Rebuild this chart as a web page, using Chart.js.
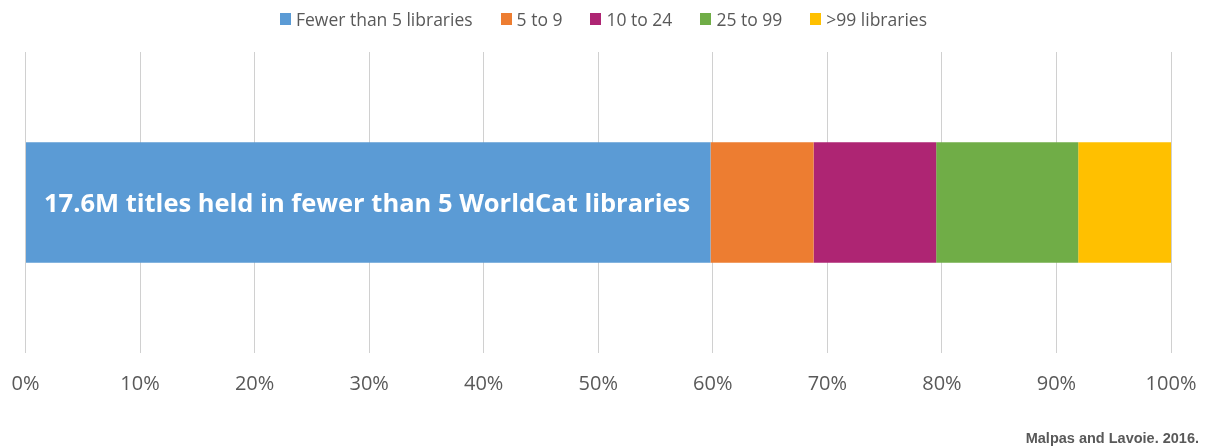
<!DOCTYPE html>
<html>
<head>
<meta charset="utf-8">
<script src="https://cdn.jsdelivr.net/npm/chart.js@4/dist/chart.umd.min.js"></script>
<style>
  html, body { margin: 0; padding: 0; background: #fff; }
  #wrap { position: relative; width: 1207px; height: 448px; }
  #legend {
    position: absolute; top: 7px; left: 0; width: 1207px;
    display: flex; justify-content: center;
    font: 17.5px "Open Sans", sans-serif; color: #595959;
  }
  #legend .item { display: flex; align-items: center; margin: 0 14px; }
  #legend .box { width: 11px; height: 12px; margin-right: 5px; }
  #source {
    position: absolute; right: 8px; top: 430px;
    font: bold 14.5px "Liberation Sans", Arial, sans-serif; color: #595959;
  }
</style>
</head>
<body>
<div id="wrap">
  <canvas id="chart" width="1207" height="448"></canvas>
  <div id="legend"></div>
  <div id="source">Malpas and Lavoie. 2016.</div>
</div>
<script>
// ----- DATA -----
const categories = ['']
const seriesNames = ['Fewer than 5 libraries', '5 to 9', '10 to 24', '25 to 99', '>99 libraries']
const seriesValues = [59.8, 9.0, 10.7, 12.4, 8.1] // share of titles, %
const seriesColors = ['#5B9BD5', '#ED7D31', '#AE2573', '#70AD47', '#FFC000']
const tickValues = [0, 10, 20, 30, 40, 50, 60, 70, 80, 90, 100]
const barLabel = '17.6M titles held in fewer than 5 WorldCat libraries'

// ----- LEGEND (html) -----
const legendEl = document.getElementById('legend')
seriesNames.forEach((name, i) => {
  const item = document.createElement('div')
  item.className = 'item'
  item.innerHTML = `<span class="box" style="background:${seriesColors[i]}"></span><span></span>`
  item.lastChild.textContent = name
  legendEl.appendChild(item)
})

// label written inside the first (blue) segment
const barLabelPlugin = {
  id: 'barLabel',
  afterDatasetsDraw(chart) {
    const el = chart.getDatasetMeta(0).data[0]
    if (!el) return
    const ctx = chart.ctx
    ctx.save()
    ctx.fillStyle = '#fff'
    ctx.font = 'bold 25.5px "Open Sans", sans-serif'
    ctx.textAlign = 'left'
    ctx.textBaseline = 'middle'
    ctx.fillText(barLabel, el.base + 18, el.y + 2)
    ctx.restore()
  },
}

// ----- CHART -----
const ctx = document.getElementById('chart').getContext('2d')
const chart = new Chart(ctx, {
  type: 'bar',
  data: {
    labels: categories,
    datasets: seriesNames.map((name, i) => ({
      label: name,
      data: [seriesValues[i]],
      backgroundColor: seriesColors[i],
      borderWidth: 0,
      categoryPercentage: 0.4,
      barPercentage: 1,
    })),
  },
  options: {
    indexAxis: 'y',
    responsive: false,
    animation: false,
    layout: { padding: { top: 52, left: 25.5, right: 36, bottom: 33 } },
    plugins: { legend: { display: false }, tooltip: { enabled: false } },
    scales: {
      x: {
        stacked: true,
        min: 0,
        max: 100,
        afterBuildTicks: (axis) => { axis.ticks = tickValues.map((v) => ({ value: v })) },
        // the layout padding already leaves room for the end labels
        afterFit: (axis) => { axis.paddingLeft = 0; axis.paddingRight = 0 },
        ticks: {
          callback: (v) => v + '%',
          color: '#595959',
          padding: 19,
          maxRotation: 0,
          font: { family: '"Open Sans", sans-serif', size: 20 },
        },
        grid: { color: '#D0D0D0', lineWidth: 1, drawTicks: false },
        border: { display: false },
      },
      y: { stacked: true, display: false },
    },
  },
  plugins: [barLabelPlugin],
})
</script>
</body>
</html>
